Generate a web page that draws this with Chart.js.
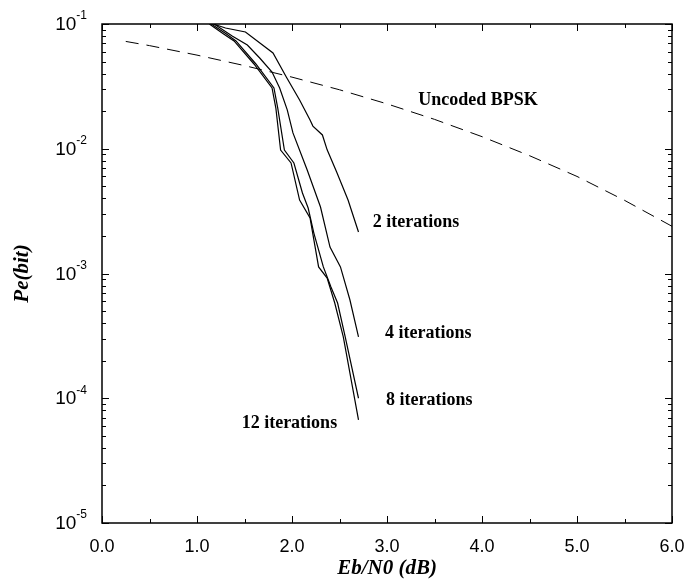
<!doctype html>
<html lang="en">
<head>
  <meta charset="utf-8">
  <title>Turbo code BER vs Eb/N0</title>
  <script src="https://cdn.jsdelivr.net/npm/chart.js"></script>
  <style>
    html, body { margin: 0; padding: 0; background: #fff; }
    #wrap { width: 691px; height: 582px; }
  </style>
</head>
<body>
<div id="wrap"><canvas id="myChart" width="691" height="582"></canvas></div>

<script>
  // values (Eb/N0 in dB, bit error probability)
  const ebn0Bpsk = [0.25, 0.5, 1.0, 1.5, 2.0, 2.5, 3.0, 3.5, 4.0, 4.5, 5.0, 5.5, 6.0];
  const peBpsk   = [0.0725, 0.0671, 0.0563, 0.0464, 0.0375, 0.0297, 0.0229, 0.0172, 0.0125, 0.0088, 0.0060, 0.00386, 0.00239];

  const ebn0It2 = [1.17, 1.30, 1.51, 1.80, 1.94, 2.08, 2.19, 2.22, 2.32, 2.37, 2.47, 2.59, 2.70];
  const peIt2   = [0.1, 0.0929, 0.0863, 0.0586, 0.0376, 0.0246, 0.0170, 0.0152, 0.0129, 0.0098, 0.0065, 0.00388, 0.00215];

  const ebn0It4 = [1.18, 1.37, 1.53, 1.66, 1.79, 1.87, 1.95, 2.01, 2.16, 2.30, 2.40, 2.51, 2.61, 2.70];
  const peIt4   = [0.1, 0.0801, 0.0679, 0.0534, 0.0412, 0.0307, 0.0205, 0.0134, 0.00676, 0.00341, 0.00163, 0.00113, 0.000613, 0.00031];

  const ebn0It8 = [1.15, 1.31, 1.41, 1.62, 1.81, 1.85, 1.92, 2.02, 2.11, 2.17, 2.23, 2.33, 2.41, 2.48, 2.56, 2.70];
  const peIt8   = [0.1, 0.0832, 0.0731, 0.0478, 0.0307, 0.0212, 0.00977, 0.00769, 0.00442, 0.00335, 0.00211, 0.00113, 0.00078, 0.00058, 0.00031, 0.0001];

  const ebn0It12 = [1.13, 1.28, 1.39, 1.60, 1.79, 1.83, 1.88, 1.99, 2.08, 2.19, 2.28, 2.37, 2.45, 2.54, 2.70];
  const peIt12   = [0.1, 0.0832, 0.0731, 0.0478, 0.0307, 0.0212, 0.00977, 0.00769, 0.00388, 0.00279, 0.00113, 0.00092, 0.00058, 0.00031, 0.000067];

  // curve labels: text, left x (dB), centre y (Pe)
  const labelTexts = ['Uncoded BPSK', '2 iterations', '4 iterations', '8 iterations', '12 iterations'];
  const labelX     = [3.33, 2.85, 2.98, 2.99, 1.47];
  const labelY     = [0.0246, 0.00259, 0.000333, 0.000097, 0.000063];

  const xTickValues = [0, 1, 2, 3, 4, 5, 6];
  const xTickLabels = ['0.0', '1.0', '2.0', '3.0', '4.0', '5.0', '6.0'];
  const yTickExponents = [-1, -2, -3, -4, -5];

  function pairs(xs, ys) {
    return xs.map(function (x, i) { return {x: x, y: ys[i]}; });
  }

  function curve(label, xs, ys, dash) {
    return {
      label: label,
      data: pairs(xs, ys),
      borderColor: '#000',
      borderWidth: dash ? 1 : 1.2,
      borderDash: dash || [],
      pointRadius: 0,
      showLine: true,
      fill: false,
      tension: 0
    };
  }

  // frame, inward ticks, tick labels, axis titles, curve labels
  const decorPlugin = {
    id: 'decor',
    afterDraw: function (chart) {
      const ctx = chart.ctx;
      const a = chart.chartArea;
      const xs = chart.scales.x;
      const ys = chart.scales.y;
      ctx.save();
      ctx.strokeStyle = '#000';
      ctx.fillStyle = '#000';
      ctx.lineWidth = 1.5;
      ctx.strokeRect(a.left, a.top, a.right - a.left, a.bottom - a.top);

      ctx.lineWidth = 1;
      ctx.beginPath();
      for (let v = 0; v <= 6.001; v += 0.5) {
        const px = Math.round(xs.getPixelForValue(v)) + 0.5;
        const len = (Math.abs(v - Math.round(v)) < 0.01) ? 7 : 4;
        ctx.moveTo(px, a.bottom); ctx.lineTo(px, a.bottom - len);
        ctx.moveTo(px, a.top); ctx.lineTo(px, a.top + len);
      }
      for (let e = -5; e < -1; e++) {
        for (let m = 1; m <= 10; m++) {
          const py = Math.round(ys.getPixelForValue(m * Math.pow(10, e))) + 0.5;
          const len = (m === 1 || m === 10) ? 7 : 4;
          ctx.moveTo(a.left, py); ctx.lineTo(a.left + len, py);
          ctx.moveTo(a.right, py); ctx.lineTo(a.right - len, py);
        }
      }
      ctx.stroke();

      ctx.font = '18px "Liberation Sans", Arial, sans-serif';
      ctx.textAlign = 'center';
      ctx.textBaseline = 'middle';
      xTickValues.forEach(function (v, i) {
        ctx.fillText(xTickLabels[i], xs.getPixelForValue(v), a.bottom + 24);
      });

      yTickExponents.forEach(function (e) {
        const py = ys.getPixelForValue(Math.pow(10, e));
        const sup = String(e);
        ctx.font = '12px "Liberation Sans", Arial, sans-serif';
        const supW = ctx.measureText(sup).width;
        ctx.textAlign = 'right';
        ctx.textBaseline = 'middle';
        ctx.fillText(sup, 87, py - 8);
        ctx.font = '19px "Liberation Sans", Arial, sans-serif';
        ctx.fillText('10', 87 - supW, py + 1);
      });

      ctx.font = 'italic bold 21px "Liberation Serif", "Times New Roman", serif';
      ctx.textAlign = 'center';
      ctx.textBaseline = 'middle';
      ctx.fillText('Eb/N0 (dB)', (a.left + a.right) / 2, 569);
      ctx.save();
      ctx.translate(23, (a.top + a.bottom) / 2);
      ctx.rotate(-Math.PI / 2);
      ctx.fillText('Pe(bit)', 0, 0);
      ctx.restore();

      ctx.font = 'bold 18px "Liberation Serif", "Times New Roman", serif';
      ctx.textAlign = 'left';
      labelTexts.forEach(function (t, i) {
        ctx.fillText(t, xs.getPixelForValue(labelX[i]), ys.getPixelForValue(labelY[i]));
      });
      ctx.restore();
    }
  };

  const config = {
    type: 'scatter',
    data: {
      datasets: [
        curve('Uncoded BPSK', ebn0Bpsk, peBpsk, [13, 8]),
        curve('2 iterations', ebn0It2, peIt2),
        curve('4 iterations', ebn0It4, peIt4),
        curve('8 iterations', ebn0It8, peIt8),
        curve('12 iterations', ebn0It12, peIt12)
      ]
    },
    options: {
      responsive: false,
      animation: false,
      layout: { padding: { left: 102, right: 19, top: 24, bottom: 59 } },
      scales: {
        x: {
          type: 'linear', min: 0, max: 6,
          grid: { display: false, drawTicks: false },
          border: { display: false },
          ticks: { display: false }
        },
        y: {
          type: 'logarithmic', min: 1e-5, max: 1e-1,
          grid: { display: false, drawTicks: false },
          border: { display: false },
          ticks: { display: false }
        }
      },
      plugins: {
        legend: { display: false },
        tooltip: { enabled: false }
      }
    },
    plugins: [decorPlugin]
  };

  new Chart(document.getElementById('myChart').getContext('2d'), config);
</script>
</body>
</html>
